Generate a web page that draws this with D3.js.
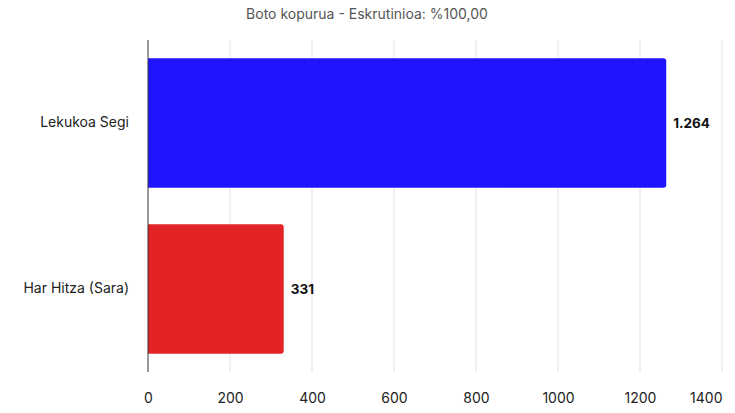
<!DOCTYPE html>
<html>
<head>
<meta charset="utf-8">
<script src="https://cdn.jsdelivr.net/npm/d3@7"></script>
<style>
    body { margin: 0; background: #fff; }
    svg { font-family: Inter, "Noto Sans", sans-serif; }
    .grid-line { stroke: #e3e3e3; stroke-width: 1; }
</style>
</head>
<body>
<svg></svg>
<script>
// datuak
const categories = ['Lekukoa Segi', 'Har Hitza (Sara)'];
const votes = [1264, 331];
const valueLabels = ['1.264', '331'];
const barColors = ['#2014ff', '#e22426'];
const ticks = [0, 200, 400, 600, 800, 1000, 1200, 1400];
const title = 'Boto kopurua - Eskrutinioa: %100,00';

const width = 735;
const height = 413;
const marginLeft = 148;
const marginRight = 13;
const marginTop = 40;
const plotBottom = 372;

const svg = d3.select('svg')
    .attr('width', width)
    .attr('height', height);

// izenburua
svg.append('text')
    .attr('x', 367)
    .attr('y', 19)
    .attr('text-anchor', 'middle')
    .style('font-size', '14px')
    .style('fill', '#555')
    .text(title);

const scaleX = d3.scaleLinear()
    .domain([0, 1400])
    .range([marginLeft, width - marginRight]);

const scaleY = d3.scaleBand()
    .domain(categories)
    .range([marginTop, plotBottom])
    .paddingInner(0.22)
    .paddingOuter(0.11);

// sareta
svg.append('g')
    .selectAll('line')
    .data(ticks.slice(1))
    .enter()
    .append('line')
    .classed('grid-line', true)
    .attr('x1', d => scaleX(d))
    .attr('x2', d => scaleX(d))
    .attr('y1', marginTop)
    .attr('y2', plotBottom);

// X ardatza
const axisX = d3.axisBottom(scaleX)
    .tickValues(ticks)
    .tickFormat(d3.format('d'))
    .tickSize(0)
    .tickPadding(0);
const gX = svg.append('g')
    .attr('transform', `translate(0, ${plotBottom + 31})`)
    .call(axisX);
gX.select('.domain').remove();
gX.selectAll('text')
    .style('font-size', '14px')
    .style('font-family', 'Inter, "Noto Sans", sans-serif')
    .attr('fill', '#222')
    .attr('dy', 0)
    .attr('text-anchor', d => d === 1400 ? 'end' : 'middle');

// barrak (eskuineko ertzak biribilduak)
const r = 3;
svg.append('g')
    .selectAll('path')
    .data(votes)
    .enter()
    .append('path')
    .attr('d', (d, i) => {
        const x0 = scaleX(0);
        const x1 = scaleX(d);
        const y0 = scaleY(categories[i]);
        const y1 = y0 + scaleY.bandwidth();
        return `M${x0},${y0}H${x1 - r}Q${x1},${y0} ${x1},${y0 + r}V${y1 - r}Q${x1},${y1} ${x1 - r},${y1}H${x0}Z`;
    })
    .style('fill', (d, i) => barColors[i]);

// balioen etiketak
svg.append('g')
    .selectAll('text')
    .data(votes)
    .enter()
    .append('text')
    .attr('x', d => scaleX(d) + 7)
    .attr('y', (d, i) => scaleY(categories[i]) + scaleY.bandwidth() / 2)
    .attr('dy', '0.35em')
    .style('font-size', '13.5px')
    .style('font-weight', 'bold')
    .style('fill', '#111')
    .text((d, i) => valueLabels[i]);

// Y ardatza
const axisY = d3.axisLeft(scaleY).tickSize(0).tickPadding(19);
const gY = svg.append('g')
    .attr('transform', `translate(${marginLeft}, 0)`)
    .call(axisY);
gY.select('.domain').remove();
gY.selectAll('text')
    .style('font-size', '14px')
    .style('font-family', 'Inter, "Noto Sans", sans-serif')
    .attr('fill', '#222');

svg.append('line')
    .attr('x1', marginLeft)
    .attr('x2', marginLeft)
    .attr('y1', marginTop)
    .attr('y2', plotBottom)
    .style('stroke', '#333')
    .style('stroke-width', 1);
</script>
</body>
</html>
